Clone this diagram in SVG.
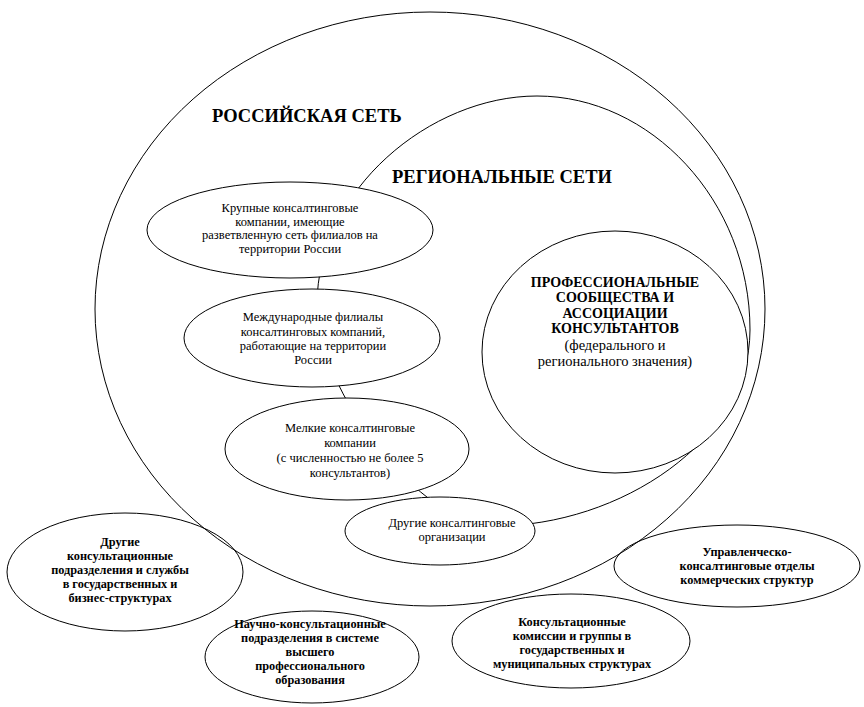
<svg xmlns="http://www.w3.org/2000/svg" width="864" height="707" viewBox="0 0 864 707">
<style>
.bg{fill:#fff}
.ln{fill:none;stroke:#000;stroke-width:1}
.wf{fill:#fff;stroke:#000;stroke-width:1}
text{font-family:"Liberation Serif","Times New Roman","DejaVu Serif",serif;fill:#000;text-anchor:middle}
.t{font-size:12.5px}
.b{font-size:12.3px;font-weight:bold}
.p{font-size:14.5px}
.pb{font-size:14px;font-weight:bold}
.h{font-size:18.5px;font-weight:bold;text-anchor:start}
</style>
<rect class="bg" width="864" height="707"/>
<g id="outer">
<ellipse class="ln" cx="430" cy="309" rx="335" ry="297"/>
<text class="h" x="212" y="122">РОССИЙСКАЯ СЕТЬ</text>
</g>
<g id="regional">
<path class="ln" d="M537,96 C650,96 750,200 750,330 C750,440 620,526 495,526 C420,526 317,390 317,305 C317,190 430,96 537,96 Z"/>
<text class="h" x="392" y="183">РЕГИОНАЛЬНЫЕ СЕТИ</text>
</g>
<g id="professional">
<ellipse class="wf" cx="615" cy="352" rx="133" ry="121"/>
<text class="pb" x="615" y="287">ПРОФЕССИОНАЛЬНЫЕ</text>
<text class="pb" x="615" y="302">СООБЩЕСТВА И</text>
<text class="pb" x="615" y="318">АССОЦИАЦИИ</text>
<text class="pb" x="615" y="333">КОНСУЛЬТАНТОВ</text>
<text class="p" x="615" y="350">(федерального и</text>
<text class="p" x="615" y="366">регионального значения)</text>
</g>
<g id="large">
<ellipse class="wf" cx="290" cy="230" rx="143" ry="48"/>
<text class="t" x="290" y="212">Крупные консалтинговые</text>
<text class="t" x="290" y="226">компании, имеющие</text>
<text class="t" x="290" y="239">разветвленную сеть филиалов на</text>
<text class="t" x="290" y="253">территории России</text>
</g>
<g id="international">
<ellipse class="wf" cx="312" cy="338" rx="128" ry="49"/>
<text class="t" x="313" y="321">Международные филиалы</text>
<text class="t" x="313" y="336">консалтинговых компаний,</text>
<text class="t" x="313" y="350">работающие на территории</text>
<text class="t" x="313" y="364">России</text>
</g>
<g id="small">
<ellipse class="wf" cx="347" cy="449" rx="122" ry="51"/>
<text class="t" x="350" y="432">Мелкие консалтинговые</text>
<text class="t" x="350" y="447">компании</text>
<text class="t" x="350" y="462">(с численностью не более 5</text>
<text class="t" x="350" y="477">консультантов)</text>
</g>
<g id="other-consulting">
<ellipse class="wf" cx="440" cy="531" rx="95" ry="34"/>
<text class="t" x="452" y="527">Другие консалтинговые</text>
<text class="t" x="452" y="541">организации</text>
</g>
<g id="other-units">
<ellipse class="ln" cx="125" cy="572" rx="118" ry="59"/>
<text class="b" x="120" y="546">Другие</text>
<text class="b" x="120" y="560">консультационные</text>
<text class="b" x="120" y="574">подразделения и службы</text>
<text class="b" x="120" y="588">в государственных и</text>
<text class="b" x="120" y="602">бизнес-структурах</text>
</g>
<g id="science">
<ellipse class="ln" cx="312" cy="657" rx="107" ry="46"/>
<text class="b" x="310" y="628">Научно-консультационные</text>
<text class="b" x="310" y="642">подразделения в системе</text>
<text class="b" x="310" y="656">высшего</text>
<text class="b" x="310" y="670">профессионального</text>
<text class="b" x="310" y="684">образования</text>
</g>
<g id="commissions">
<ellipse class="ln" cx="571" cy="641" rx="119" ry="47"/>
<text class="b" x="572" y="626">Консультационные</text>
<text class="b" x="572" y="640">комиссии и группы в</text>
<text class="b" x="572" y="654">государственных и</text>
<text class="b" x="572" y="668">муниципальных структурах</text>
</g>
<g id="management">
<ellipse class="ln" cx="737" cy="566" rx="123" ry="41"/>
<text class="b" x="747" y="556">Управленческо-</text>
<text class="b" x="747" y="570">консалтинговые отделы</text>
<text class="b" x="747" y="584">коммерческих структур</text>
</g>
<g id="connectors"></g>
</svg>
